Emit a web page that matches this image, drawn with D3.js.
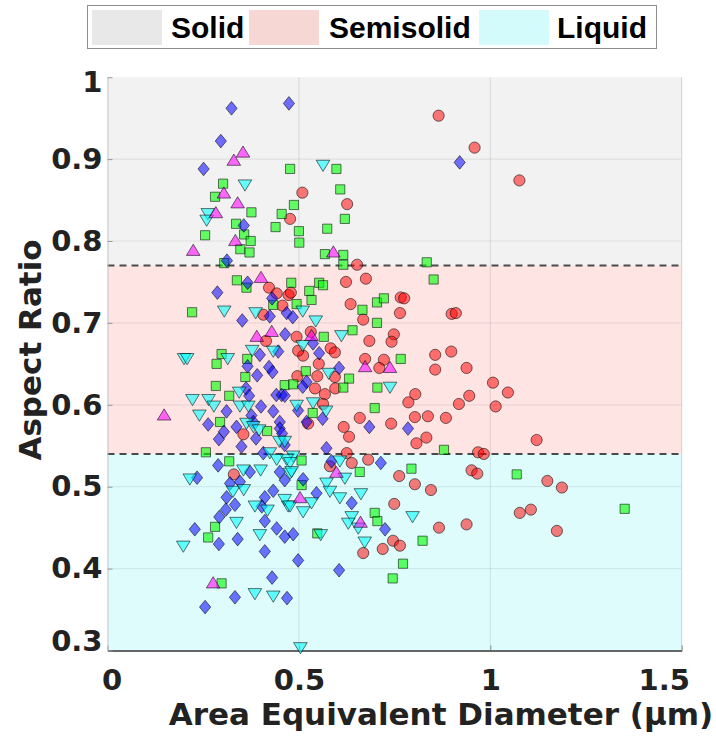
<!DOCTYPE html>
<html><head><meta charset="utf-8">
<script src="https://cdn.jsdelivr.net/npm/d3@7"></script>
<style>body{margin:0;background:#fff}svg{display:block}</style>
</head><body>
<svg id="c" width="716" height="736"></svg>
<script>
const xTicks=[0,0.5,1,1.5];
const yTicks=[0.3,0.4,0.5,0.6,0.7,0.8,0.9,1];
const categories=["Solid","Semisolid","Liquid"];
const bandLimits=[1.0,0.77,0.54,0.3]; // Solid top, Solid/Semisolid, Semisolid/Liquid, bottom
const thresholds=[0.77,0.54];

const redCircles=[[0.865,0.953],[0.959,0.914],[1.076,0.874],[0.509,0.859],[0.626,0.845],[0.477,0.827],[0.652,0.771],[0.422,0.743],[0.442,0.736],[0.473,0.734],[0.479,0.737],[0.457,0.721],[0.407,0.710],[0.414,0.678],[0.494,0.683],[0.496,0.635],[0.355,0.564],[0.623,0.750],[0.675,0.754],[0.635,0.723],[0.766,0.731],[0.775,0.730],[0.764,0.712],[0.668,0.704],[0.899,0.711],[0.910,0.712],[0.748,0.686],[0.742,0.677],[0.684,0.678],[0.531,0.689],[0.583,0.669],[0.594,0.664],[0.511,0.660],[0.552,0.650],[0.673,0.656],[0.722,0.655],[0.710,0.645],[0.856,0.661],[0.898,0.665],[0.856,0.643],[0.938,0.645],[0.548,0.635],[0.594,0.634],[0.542,0.620],[0.568,0.613],[0.595,0.620],[0.804,0.613],[0.786,0.603],[0.918,0.601],[0.945,0.611],[0.563,0.601],[0.659,0.584],[0.617,0.573],[0.631,0.561],[0.741,0.577],[0.803,0.585],[0.837,0.586],[0.884,0.584],[0.833,0.560],[0.807,0.553],[0.625,0.541],[0.968,0.542],[0.524,0.577],[1.007,0.627],[1.046,0.615],[1.014,0.598],[1.121,0.557],[0.983,0.540],[0.951,0.520],[0.966,0.516],[1.149,0.507],[1.187,0.499],[1.077,0.468],[1.106,0.472],[1.174,0.446],[0.938,0.454],[0.638,0.529],[0.681,0.533],[0.581,0.525],[0.762,0.513],[0.803,0.503],[0.845,0.496],[0.749,0.479],[0.866,0.450],[0.746,0.434],[0.764,0.428],[0.719,0.424],[0.668,0.419],[0.330,0.515],[0.498,0.666]];

const greenSquares=[[0.477,0.888],[0.598,0.888],[0.608,0.863],[0.487,0.844],[0.455,0.833],[0.620,0.827],[0.574,0.815],[0.500,0.812],[0.501,0.798],[0.568,0.784],[0.616,0.783],[0.616,0.771],[0.834,0.774],[0.302,0.870],[0.281,0.854],[0.376,0.835],[0.336,0.821],[0.439,0.817],[0.255,0.807],[0.357,0.808],[0.374,0.800],[0.347,0.790],[0.371,0.786],[0.305,0.773],[0.338,0.752],[0.363,0.743],[0.480,0.749],[0.433,0.722],[0.221,0.713],[0.298,0.662],[0.285,0.650],[0.365,0.656],[0.360,0.634],[0.283,0.623],[0.318,0.611],[0.463,0.624],[0.485,0.625],[0.294,0.579],[0.417,0.568],[0.257,0.542],[0.527,0.739],[0.553,0.749],[0.563,0.746],[0.533,0.728],[0.494,0.723],[0.704,0.725],[0.722,0.730],[0.666,0.716],[0.852,0.753],[0.704,0.700],[0.640,0.691],[0.565,0.683],[0.766,0.656],[0.631,0.632],[0.616,0.621],[0.705,0.621],[0.518,0.641],[0.536,0.590],[0.698,0.596],[0.879,0.545],[1.069,0.515],[1.351,0.473],[0.794,0.522],[0.659,0.518],[0.507,0.532],[0.507,0.502],[0.698,0.468],[0.705,0.458],[0.823,0.434],[0.548,0.443],[0.772,0.406],[0.745,0.388],[0.318,0.531],[0.281,0.451],[0.263,0.438],[0.298,0.382]];

const blueDiamonds=[[0.324,0.962],[0.474,0.968],[0.296,0.922],[0.251,0.888],[0.356,0.819],[0.312,0.776],[0.920,0.896],[0.366,0.749],[0.287,0.737],[0.430,0.730],[0.424,0.708],[0.352,0.703],[0.468,0.712],[0.484,0.707],[0.464,0.686],[0.398,0.661],[0.446,0.665],[0.366,0.647],[0.422,0.646],[0.431,0.640],[0.391,0.636],[0.362,0.620],[0.370,0.611],[0.441,0.612],[0.455,0.612],[0.463,0.611],[0.311,0.592],[0.401,0.598],[0.433,0.592],[0.498,0.593],[0.263,0.576],[0.376,0.587],[0.381,0.579],[0.337,0.573],[0.304,0.567],[0.450,0.579],[0.450,0.571],[0.456,0.565],[0.291,0.558],[0.388,0.559],[0.350,0.549],[0.537,0.675],[0.553,0.663],[0.520,0.628],[0.510,0.622],[0.605,0.645],[0.520,0.579],[0.562,0.583],[0.684,0.573],[0.785,0.571],[0.572,0.547],[0.585,0.531],[0.714,0.529],[0.463,0.551],[0.463,0.508],[0.511,0.509],[0.546,0.492],[0.638,0.480],[0.725,0.448],[0.485,0.442],[0.463,0.439],[0.498,0.410],[0.605,0.398],[0.469,0.364],[0.289,0.526],[0.234,0.511],[0.320,0.504],[0.346,0.506],[0.372,0.518],[0.311,0.487],[0.333,0.478],[0.309,0.472],[0.292,0.463],[0.411,0.487],[0.433,0.495],[0.403,0.476],[0.411,0.458],[0.442,0.449],[0.228,0.448],[0.340,0.436],[0.291,0.430],[0.411,0.421],[0.430,0.389],[0.333,0.365],[0.255,0.353],[0.450,0.518],[0.407,0.541]];

const cyanTriangles=[[0.563,0.892],[0.359,0.868],[0.262,0.833],[0.259,0.825],[0.305,0.714],[0.387,0.712],[0.378,0.666],[0.433,0.665],[0.314,0.656],[0.200,0.656],[0.208,0.656],[0.344,0.615],[0.222,0.606],[0.264,0.606],[0.278,0.598],[0.346,0.598],[0.368,0.598],[0.494,0.599],[0.240,0.587],[0.363,0.577],[0.381,0.573],[0.396,0.569],[0.449,0.555],[0.463,0.555],[0.510,0.714],[0.544,0.702],[0.611,0.684],[0.510,0.672],[0.578,0.638],[0.738,0.621],[0.537,0.602],[0.571,0.592],[0.485,0.537],[0.468,0.533],[0.607,0.531],[0.620,0.510],[0.572,0.504],[0.581,0.494],[0.477,0.516],[0.533,0.480],[0.511,0.469],[0.472,0.476],[0.463,0.484],[0.607,0.486],[0.662,0.491],[0.638,0.463],[0.629,0.455],[0.655,0.449],[0.672,0.432],[0.557,0.441],[0.797,0.463],[0.504,0.303],[0.215,0.509],[0.355,0.520],[0.400,0.520],[0.328,0.494],[0.356,0.496],[0.337,0.456],[0.385,0.476],[0.418,0.471],[0.398,0.441],[0.198,0.427],[0.385,0.369],[0.433,0.366],[0.477,0.476],[0.424,0.541],[0.442,0.533],[0.477,0.529],[0.481,0.518]];

const magentaTriangles=[[0.354,0.909],[0.330,0.899],[0.304,0.859],[0.340,0.847],[0.283,0.835],[0.334,0.801],[0.224,0.789],[0.590,0.787],[0.401,0.756],[0.429,0.690],[0.390,0.684],[0.533,0.685],[0.673,0.647],[0.738,0.646],[0.148,0.588],[0.503,0.487],[0.598,0.518],[0.661,0.457],[0.276,0.383]];

const svg=d3.select("#c");
const L=107.5,R=681.7,T=77.2,B=650.5;
const x=d3.scaleLinear().domain([0,1.5]).range([L,R]);
const y=d3.scaleLinear().domain([0.3,1.0]).range([B,T]);

// bands
const bandFill={Solid:"#f2f2f2",Semisolid:"#ffe4e4",Liquid:"#dffcfc"};
const legendFill={Solid:"#e8e8e8",Semisolid:"#f7d7d3",Liquid:"#d4fbfb"};
svg.append("g").selectAll("rect").data(categories).join("rect")
  .attr("x",x(0)).attr("width",x(1.5)-x(0))
  .attr("y",(d,i)=>y(bandLimits[i]))
  .attr("height",(d,i)=>y(bandLimits[i+1])-y(bandLimits[i]))
  .attr("fill",d=>bandFill[d]);

// grid
const g=svg.append("g");
g.selectAll("line.gy").data(yTicks.filter(v=>v>0.3&&v<1)).join("line").attr("class","gy")
  .attr("x1",x(0)).attr("x2",x(1.5)).attr("y1",d=>y(d)).attr("y2",d=>y(d))
  .attr("stroke","#000").attr("stroke-opacity",0.07).attr("stroke-width",1.2);
g.selectAll("line.gx").data(xTicks.filter(v=>v>0&&v<1.5)).join("line").attr("class","gx")
  .attr("y1",y(0.3)).attr("y2",y(1)).attr("x1",d=>x(d)).attr("x2",d=>x(d))
  .attr("stroke","#000").attr("stroke-opacity",0.09).attr("stroke-width",1.2);

// dashed thresholds
svg.append("g").selectAll("line").data(thresholds).join("line")
  .attr("x1",x(0)).attr("x2",x(1.5)).attr("y1",d=>y(d)).attr("y2",d=>y(d))
  .attr("stroke","#4a4a4a").attr("stroke-width",2).attr("stroke-dasharray","7,5");

// frame lines
svg.append("line").attr("x1",x(1.5)).attr("x2",x(1.5)).attr("y1",y(1)).attr("y2",y(0.3)).attr("stroke","#cfcfcf");

// axes
const fontTick="'DejaVu Sans',sans-serif";
const xAxis=d3.axisBottom(x).tickValues(xTicks).tickFormat(d=>String(d)).tickSize(-5).tickSizeOuter(0).tickPadding(19);
const gx=svg.append("g").attr("transform",`translate(0,${B})`).call(xAxis);
gx.select(".domain").attr("stroke","#333").attr("stroke-width",1.3);
gx.selectAll(".tick line").attr("stroke","#888");
gx.selectAll("text").attr("font-family",fontTick).attr("font-weight","bold").attr("font-size",29).attr("fill","#222")
  .attr("dx",d=>d===0?4:(d===1.5?-18:0));

const yAxis=d3.axisLeft(y).tickValues(yTicks).tickFormat(d=>String(d)).tickSize(-5).tickSizeOuter(0).tickPadding(5);
const gy=svg.append("g").attr("transform",`translate(${L},0)`).call(yAxis);
gy.select(".domain").attr("stroke","#c4c4c4");
gy.selectAll(".tick line").attr("stroke","#999");
gy.selectAll("text").attr("font-family",fontTick).attr("font-weight","bold").attr("font-size",29).attr("fill","#222")
  .attr("y",d=>d===0.3?-9:(d===1?5:0));

// axis labels
svg.append("text").attr("x",441).attr("y",725).attr("text-anchor","middle")
  .attr("font-family",fontTick).attr("font-weight","bold").attr("font-size",31).attr("fill","#222")
  .text("Area Equivalent Diameter (μm)");
svg.append("text").attr("transform","translate(41,350) rotate(-90)").attr("text-anchor","middle")
  .attr("font-family",fontTick).attr("font-weight","bold").attr("font-size",31).attr("fill","#222")
  .text("Aspect Ratio");

// markers
const shapes={
  circle:()=>d3.symbol(d3.symbolCircle,Math.PI*5.6*5.6)(),
  square:()=>"M-4.6,-4.6H4.6V4.6H-4.6Z",
  diamond:()=>"M0,-6.8L5.6,0L0,6.8L-5.6,0Z",
  down:()=>"M-6.8,-5.4H6.8L0,5.8Z",
  up:()=>"M0,-5.8L6.8,5.4H-6.8Z"
};
const series=[
  {data:redCircles,shape:"circle",color:"#ff0000",op:0.52},
  {data:greenSquares,shape:"square",color:"#00ff00",op:0.6},
  {data:blueDiamonds,shape:"diamond",color:"#0000ff",op:0.55},
  {data:cyanTriangles,shape:"down",color:"#00ffff",op:0.58},
  {data:magentaTriangles,shape:"up",color:"#ff00ff",op:0.58}
];
series.forEach(s=>{
  svg.append("g").selectAll("path").data(s.data).join("path")
    .attr("transform",d=>`translate(${x(d[0])},${y(d[1])})`)
    .attr("d",shapes[s.shape]())
    .attr("fill",s.color).attr("fill-opacity",s.op)
    .attr("stroke","#000").attr("stroke-opacity",0.55).attr("stroke-width",1);
});

// legend
const lg=svg.append("g");
lg.append("rect").attr("x",87.5).attr("y",5.5).attr("width",569).attr("height",43)
  .attr("fill","#fff").attr("stroke","#8c8c8c").attr("stroke-width",1);
const patchX=[92,249,479], textX=[171,329,557];
categories.forEach((c,i)=>{
  lg.append("rect").attr("x",patchX[i]).attr("y",10).attr("width",70).attr("height",35).attr("fill",legendFill[c]);
  lg.append("text").attr("x",textX[i]).attr("y",38).attr("font-family","'Liberation Sans',Arial,sans-serif")
    .attr("font-weight","bold").attr("font-size",30).attr("fill","#000").text(c);
});
</script>
</body></html>
